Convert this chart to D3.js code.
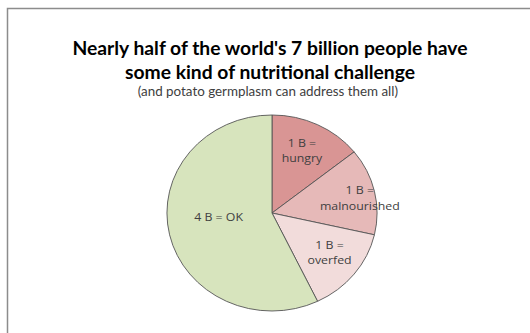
<!DOCTYPE html>
<html>
<head>
<meta charset="utf-8">
<script src="https://d3js.org/d3.v7.min.js"></script>
<style>
  body { margin: 0; background: #fff; }
  text { font-family: Lato, "Open Sans", sans-serif; }
</style>
</head>
<body>
<div id="chart"></div>
<script>
var categories = ["hungry", "malnourished", "overfed", "OK"],
    values = [1, 1, 1, 4],
    labelLines = [["1 B =", "hungry"], ["1 B =", "malnourished"], ["1 B =", "overfed"], ["4 B = OK"]],
    titleLines = ["Nearly half of the world's 7 billion people have", "some kind of nutritional challenge"],
    subtitle = "(and potato germplasm can address them all)";

var width = 530, height = 333,
    cx = 272, cy = 213,
    r = 98, stretch = 1.072;   // the whole picture is a bit wider than tall

// label placement per slice: distance (fraction of radius), angle shift (degrees)
var labelRadius = [0.70, 0.85, 0.68, 0.51],
    labelShift = [-1.7, 2.5, -2.2, 8.3];

var color = d3.scaleOrdinal()
  .domain(categories)
  .range(["#d99594", "#e6b9b8", "#f2dcdb", "#d7e4bd"]);

var svg = d3.select("#chart").append("svg")
  .attr("width", width)
  .attr("height", height);

// chart area frame (runs off the right and bottom edge)
svg.append("rect")
  .attr("x", 7.5).attr("y", 8.5)
  .attr("width", 600).attr("height", 400)
  .style("fill", "none")
  .style("stroke", "#8c8c8c")
  .style("stroke-width", 1.5);

var head = svg.append("g")
  .attr("transform", "translate(270,0) scale(" + stretch + ",1)");

head.selectAll(".title")
  .data(titleLines)
  .enter().append("text")
  .attr("class", "title")
  .attr("x", 0)
  .attr("y", function(d, i) { return 55 + i * 24; })
  .attr("text-anchor", "middle")
  .style("font-size", "18px")
  .style("font-weight", "bold")
  .style("fill", "#000")
  .text(function(d) { return d; });

head.append("text")
  .attr("x", -2)
  .attr("y", 96)
  .attr("text-anchor", "middle")
  .style("font-size", "12.5px")
  .style("fill", "#404040")
  .text(subtitle);

var pie = d3.pie().sort(null).value(function(d) { return d; });
var arcs = pie(values);

var arc = d3.arc().innerRadius(0).outerRadius(r);

var g = svg.append("g")
  .attr("transform", "translate(" + cx + "," + cy + ") scale(" + stretch + ",1)");

g.selectAll("path")
  .data(arcs)
  .enter().append("path")
  .attr("d", arc)
  .style("fill", function(d, i) { return color(categories[i]); })
  .style("stroke", "#555")
  .style("stroke-width", 0.9)
  .attr("vector-effect", "non-scaling-stroke");

g.selectAll("text")
  .data(arcs)
  .enter().append("text")
  .attr("transform", function(d, i) {
    var a = (d.startAngle + d.endAngle) / 2 + labelShift[i] * Math.PI / 180,
        lr = r * labelRadius[i];
    return "translate(" + (Math.sin(a) * lr) + "," + (-Math.cos(a) * lr) + ")";
  })
  .attr("text-anchor", "middle")
  .style("font-family", "'Open Sans', sans-serif")
  .style("font-size", "11.5px")
  .style("fill", "#404040")
  .each(function(d, i) {
    var lines = labelLines[i],
        t = d3.select(this);
    lines.forEach(function(s, k) {
      t.append("tspan")
        .attr("x", 0)
        .attr("y", (k - (lines.length - 1) / 2) * 15.5 + 4)
        .text(s);
    });
  });
</script>
</body>
</html>
